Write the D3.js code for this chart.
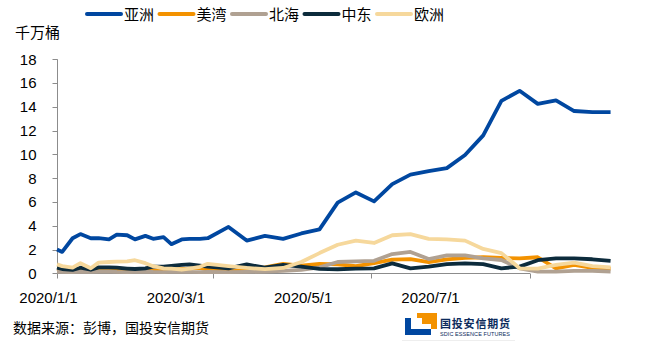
<!DOCTYPE html>
<html><head><meta charset="utf-8">
<script src="https://cdn.jsdelivr.net/npm/d3@7/dist/d3.min.js"></script>
<style>body{margin:0;background:#fff}svg{display:block}</style>
</head><body><svg id="c" width="647" height="346"></svg>
<script>
const dates = ["2020-01-01","2020-01-03","2020-01-07","2020-01-10","2020-01-14","2020-01-17","2020-01-21","2020-01-24","2020-01-28","2020-01-31",
"2020-02-04","2020-02-07","2020-02-11","2020-02-14","2020-02-18","2020-02-21","2020-02-25","2020-02-28","2020-03-07","2020-03-14",
"2020-03-21","2020-03-28","2020-04-04","2020-04-11","2020-04-18","2020-04-25","2020-05-02","2020-05-09","2020-05-16","2020-05-23",
"2020-05-30","2020-06-06","2020-06-13","2020-06-20","2020-06-27","2020-07-04","2020-07-11","2020-07-18","2020-07-25","2020-08-01"];
const asia = [2.0,1.8,2.95,3.3,2.95,2.95,2.85,3.25,3.2,2.85,3.15,2.9,3.05,2.45,2.85,2.9,2.9,2.95,3.9,2.75,
3.15,2.9,3.35,3.7,5.95,6.8,6.05,7.5,8.3,8.6,8.85,9.95,11.6,14.5,15.35,14.25,14.55,13.65,13.55,13.55];
const usGulf = [0.35,0.3,0.2,0.3,0.2,0.3,0.3,0.3,0.25,0.2,0.2,0.25,0.2,0.3,0.35,0.4,0.45,0.3,0.15,0.3,
0.5,0.8,0.65,0.8,0.75,0.6,0.85,1.15,1.2,0.95,1.18,1.3,1.35,1.3,1.25,1.35,0.42,0.7,0.45,0.4];
const northSea = [0.15,0.12,0.1,0.15,0.12,0.15,0.15,0.12,0.1,0.12,0.15,0.12,0.1,0.12,0.15,0.12,0.1,0.12,0.1,0.12,
0.15,0.2,0.28,0.5,0.95,1.0,1.05,1.62,1.8,1.2,1.5,1.5,1.26,1.12,0.42,0.14,0.14,0.2,0.2,0.15];
const middleEast = [0.47,0.36,0.28,0.47,0.3,0.5,0.5,0.47,0.4,0.36,0.42,0.56,0.56,0.62,0.7,0.75,0.65,0.56,0.42,0.75,
0.47,0.7,0.56,0.38,0.34,0.39,0.42,0.84,0.42,0.56,0.78,0.84,0.78,0.42,0.56,1.1,1.25,1.25,1.18,1.05];
const europe = [0.75,0.6,0.47,0.85,0.42,0.9,0.95,0.98,1.0,1.1,0.85,0.6,0.42,0.4,0.3,0.4,0.55,0.8,0.6,0.45,
0.35,0.45,0.95,1.7,2.4,2.75,2.55,3.2,3.3,2.9,2.85,2.75,2.05,1.7,0.42,0.4,0.7,0.9,0.6,0.5];
const seriesNames = ["亚洲","美湾","北海","中东","欧洲"];
const yTicks = [0,2,4,6,8,10,12,14,16,18];
const xTickDates = ["2020-01-01","2020-03-01","2020-05-01","2020-07-01"];
const xLabels = ["2020/1/1","2020/3/1","2020/5/1","2020/7/1"];
const unitLabel = "千万桶";
const sourceText = "数据来源：彭博，国投安信期货";

const colors = ["#0047A0","#F39200","#B0A192","#0C2B3C","#F6D89C"];
const seriesData = [asia, usGulf, northSea, middleEast, europe];
const parse = d3.timeParse("%Y-%m-%d");
const svg = d3.select("#c");
const x = d3.scaleTime().domain([parse("2020-01-01"), parse("2020-07-01")]).range([57, 530]);
const y = d3.scaleLinear().domain([0,18]).range([273.3, 59.3]);
const axisColor = "#8C8C8C";

// y axis
const ya = svg.append("g");
ya.append("line").attr("x1",57.5).attr("x2",57.5).attr("y1",y(18)).attr("y2",y(0)).attr("stroke",axisColor);
yTicks.forEach(t=>{
  ya.append("line").attr("x1",52.5).attr("x2",57.5).attr("y1",Math.round(y(t))+0.5).attr("y2",Math.round(y(t))+0.5).attr("stroke",axisColor);
  ya.append("text").attr("x",36.5).attr("y",y(t)).attr("dy","0.36em").attr("text-anchor","end")
    .attr("font-family","Liberation Sans, Arial, sans-serif").attr("font-size",15).attr("fill","#000").text(t);
});
// x axis
const xa = svg.append("g");
const y0 = Math.round(y(0))+0.5;
xa.append("line").attr("x1",57).attr("x2",x(parse(xTickDates[xTickDates.length-1]))).attr("y1",y0).attr("y2",y0).attr("stroke",axisColor);
xTickDates.forEach(d=>{
  const xx = Math.round(x(parse(d)))+0.5;
  xa.append("line").attr("x1",xx).attr("x2",xx).attr("y1",y0).attr("y2",y0+5).attr("stroke",axisColor);
});
const xl = d3.scalePoint().domain(xLabels).range([48.5, 430.5]);
xLabels.forEach(l=>{
  xa.append("text").attr("x",xl(l)).attr("y",303).attr("text-anchor","middle")
    .attr("font-family","Liberation Sans, Arial, sans-serif").attr("font-size",15).attr("fill","#000").text(l);
});

// lines
const line = d3.line().x((d,i)=>x(parse(dates[i]))).y(d=>y(d));
seriesData.forEach((s,k)=>{
  svg.append("path").datum(s).attr("d",line).attr("fill","none").attr("stroke",colors[k])
    .attr("stroke-width",3.8).attr("stroke-linejoin","round").attr("stroke-linecap","butt");
});

// legend
const lg = svg.append("g");
seriesNames.forEach((n,k)=>{
  const x0 = 87 + k*72.5;
  lg.append("line").attr("x1",x0).attr("x2",x0+34).attr("y1",14).attr("y2",14).attr("stroke",colors[k]).attr("stroke-width",4).attr("stroke-linecap","round");
  lg.append("text").attr("x",x0+37).attr("y",19.5).attr("font-family","Noto Sans CJK SC, sans-serif").attr("font-size",15).attr("fill","#000").text(n);
});
svg.append("text").attr("x",15).attr("y",38).attr("font-family","Noto Sans CJK SC, sans-serif").attr("font-size",15).attr("fill","#000").text(unitLabel);
svg.append("text").attr("x",13).attr("y",333).attr("font-family","Noto Sans CJK SC, sans-serif").attr("font-size",14).attr("fill","#000").text(sourceText);

// logo
const logo = svg.append("g");
logo.append("rect").attr("x",417).attr("y",313).attr("width",20).attr("height",16).attr("fill","#F39200");
logo.append("rect").attr("x",405).attr("y",318).attr("width",26).attr("height",17).attr("fill","#0047A0");
logo.append("rect").attr("x",411).attr("y",318).attr("width",20).attr("height",11).attr("fill","#fff");
logo.append("rect").attr("x",422).attr("y",318).attr("width",9).attr("height",6).attr("fill","#F39200");
logo.append("text").attr("x",440).attr("y",328).attr("font-family","Noto Sans CJK SC, sans-serif").attr("font-size",11).attr("font-weight","bold").attr("fill","#0C2B5C").attr("textLength",70).text("国投安信期货");
logo.append("text").attr("x",440).attr("y",336).attr("font-family","Liberation Sans, Arial, sans-serif").attr("font-size",5.5).attr("fill","#0C2B5C").attr("textLength",70).text("SDIC ESSENCE FUTURES");
logo.append("line").attr("x1",402).attr("x2",515).attr("y1",340.5).attr("y2",340.5).attr("stroke","#eee");
</script></body></html>
